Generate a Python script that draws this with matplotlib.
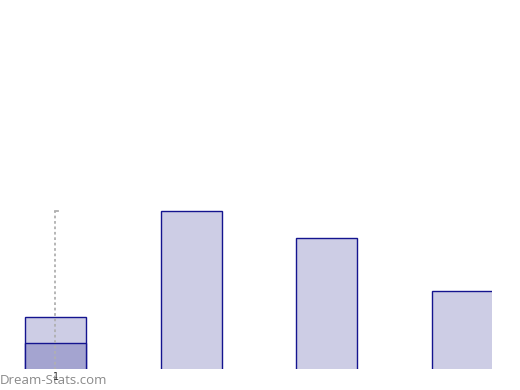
import matplotlib
matplotlib.use('Agg')
import matplotlib.pyplot as plt

# 막대 값
cats = ['1', '2', '3', '4']
values = [10, 30, 25, 15]
inner = [5]          # 첫 막대 안쪽 진한 부분
line_max = 30        # 점선 높이

fig = plt.figure(figsize=(5.2, 3.9), dpi=100)
ax = fig.add_axes([0, 21/390, 492/520, 369/390])

x = list(range(len(cats)))
ax.bar(x, values, width=0.45, color='#cdcde5', edgecolor='#14148f', linewidth=1.0)
ax.bar([0], inner, width=0.45, color='#a4a4d0', edgecolor='#14148f', linewidth=1.0)

# 점선
ax.plot([0, 0], [0, line_max], color='#b0b0b0', linestyle=(0, (1.5, 1.5)), linewidth=1.3)
ax.plot([0, 0.02], [line_max, line_max], color='#b0b0b0', linewidth=1.3)

ax.set_xlim(-0.409, 3.218)
ax.set_ylim(0.15, 70)
ax.axis('off')

fig.text(0, 3/390, 'Dream-Stats.com', color='#8a8a8a', fontsize=9.5, family='Open Sans',
         ha='left', va='bottom')
fig.text(56/520, 8/390, cats[0], color='#333333', fontsize=7, ha='center', va='bottom')

fig.savefig('out.png', dpi=100)
